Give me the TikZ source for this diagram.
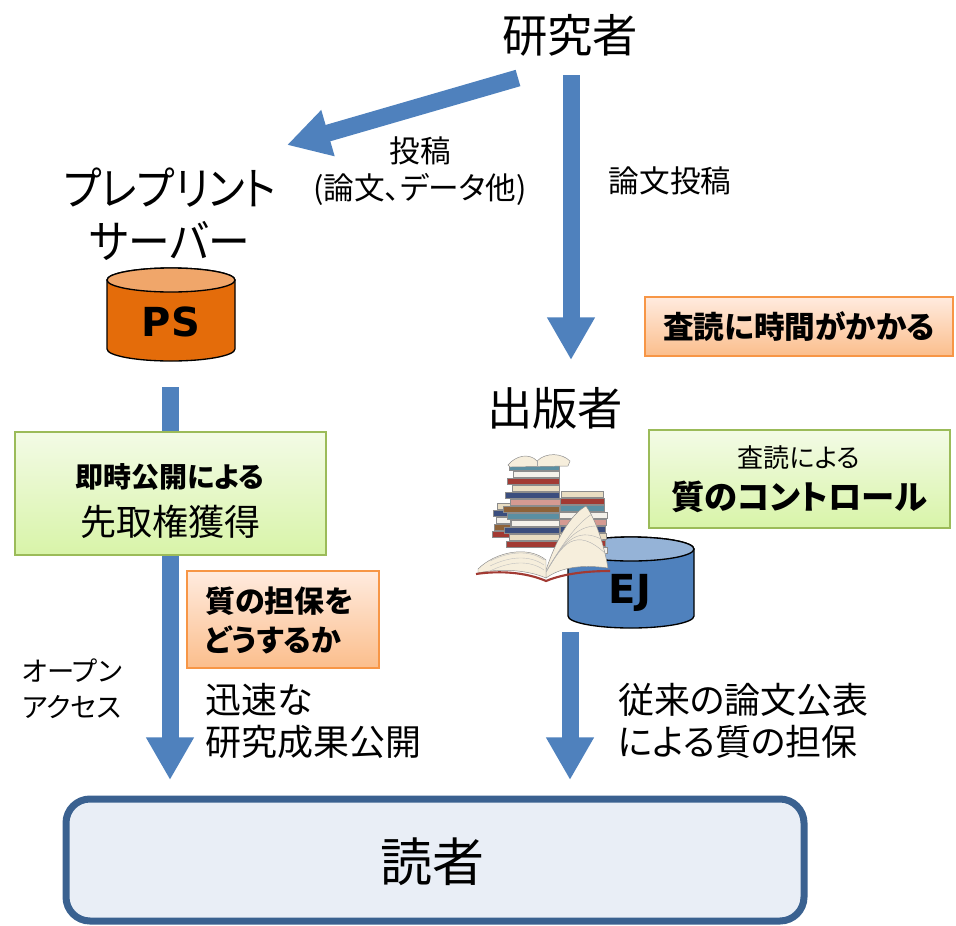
\documentclass[tikz,border=0pt]{standalone}
\usepackage{fontspec}
\setmainfont{Noto Sans CJK JP}[RawFeature=+palt]
\newfontfamily\latinfont{DejaVu Sans}
\usetikzlibrary{arrows.meta}

\definecolor{flowblue}{HTML}{4F81BD}
\definecolor{readerline}{HTML}{3A6190}
\definecolor{readerfill}{HTML}{E9EEF6}
\definecolor{greenline}{HTML}{9BBB59}
\definecolor{greentop}{HTML}{F3FBE6}
\definecolor{greenbot}{HTML}{D8F4A8}
\definecolor{orangeline}{HTML}{F79646}
\definecolor{orangetop}{HTML}{FFEBDF}
\definecolor{orangebot}{HTML}{FBBE8C}
\definecolor{psbody}{HTML}{E46C0A}
\definecolor{pstop}{HTML}{F0A66A}
\definecolor{ejbody}{HTML}{4F81BD}
\definecolor{ejtop}{HTML}{95B3D7}
\definecolor{bkred}{HTML}{A23A33}
\definecolor{bkcream}{HTML}{E9DDC2}
\definecolor{bknavy}{HTML}{3B4E7E}
\definecolor{bkwhite}{HTML}{F4F1EA}
\definecolor{bkteal}{HTML}{5B8FA2}
\definecolor{bkbrown}{HTML}{8E6238}
\definecolor{bkpink}{HTML}{D59A92}
\definecolor{pagecream}{HTML}{F6EEDC}

\tikzset{
  flow/.style={draw=flowblue, line width=12.75pt,
    -{Triangle[width=33.75pt,length=32pt]}},
  lbl/.style={inner sep=0pt, outer sep=0pt},
  big/.style={lbl, font=\fontsize{34}{40}\selectfont},
  mid/.style={lbl, font=\fontsize{23}{28}\selectfont},
  note/.style={lbl, align=left, anchor=west, font=\fontsize{27}{31.5}\selectfont},
  small/.style={lbl, align=left, anchor=west, font=\fontsize{20.5}{27}\selectfont},
  greenbox/.style={draw=greenline, line width=1.5pt, top color=greentop,
    bottom color=greenbot, inner sep=0pt},
  orangebox/.style={draw=orangeline, line width=1.5pt, top color=orangetop,
    bottom color=orangebot, inner sep=0pt},
  dbtext/.style={lbl, font=\latinfont\bfseries\fontsize{30}{36}\selectfont},
  book/.style={draw=black!45, line width=0.35pt},
}

\begin{document}
\begin{tikzpicture}[x=0.75pt, y=-0.75pt]
\useasboundingbox (0,0) rectangle (956,925);

% --- main actors -------------------------------------------------------
\node[big] (researcher) at (570,35) {研究者};
\node[big, align=center] (preprint) at (170,214)
  {\scalebox{0.9}[1]{プレプリント}\\\scalebox{0.92}[1]{サーバー}};
\node[big] (publisher) at (555,408) {出版者};

% --- flow arrows (drawn first, boxes sit on top) -------------------------
\coordinate (subA) at (518,78);
\coordinate (subB) at (287,145);
\coordinate (pubA) at (571,75);
\coordinate (pubB) at (571,360);
\coordinate (psA) at (170,387);
\coordinate (psB) at (170,780);
\coordinate (ejA) at (570,632);
\coordinate (ejB) at (570,780);
\draw[flow] (subA) -- (subB);
\draw[flow] (pubA) -- (pubB);
\draw[flow] (psA) -- (psB);
\draw[flow] (ejA) -- (ejB);

\node[mid, align=center, font=\fontsize{23}{28}\selectfont] (sublabel) at (420,171)
  {投稿\\(論文、データ他)};
\node[mid] (pubsub) at (670,181) {論文投稿};

% --- preprint server database --------------------------------------------
\filldraw[fill=psbody, draw=black, line width=1pt]
  (107,280) -- (107,349) arc[start angle=180, end angle=0, x radius=64, y radius=12]
  -- (235,280) arc[start angle=360, end angle=180, x radius=64, y radius=12] -- cycle;
\filldraw[fill=pstop, draw=black, line width=1pt] (171,280) ellipse[x radius=64, y radius=12];
\node[dbtext] (ps) at (171,322) {PS};

% --- journal database -------------------------------------------------------
\filldraw[fill=ejbody, draw=black, line width=1pt]
  (568,549) -- (568,616) arc[start angle=180, end angle=0, x radius=63, y radius=12]
  -- (694,549) arc[start angle=360, end angle=180, x radius=63, y radius=12] -- cycle;
\filldraw[fill=ejtop, draw=black, line width=1pt] (631,549) ellipse[x radius=63, y radius=12];
\node[dbtext] (ej) at (630,593) {EJ};

% --- pile of books beside the journal database -------------------------------
\foreach \bx/\by/\bw/\bc in {492/531/18/bkred, 494/524/16/bkbrown, 496/517/14/bkwhite,
    493/510/17/bknavy, 497/503/14/bkcream}
  \filldraw[book, fill=\bc] (\bx,\by) rectangle ++(\bw,6.5);
\foreach \bx/\by/\bw/\bc in {557/547/50/bkwhite, 559/540/46/bkred, 556/533/50/bkcream,
    560/526/45/bknavy, 557/519/49/bkpink, 555/512/52/bkwhite, 560/505/44/bkteal,
    557/498/47/bkred, 561/491/42/bkcream}
  \filldraw[book, fill=\bc] (\bx,\by) rectangle ++(\bw,6.5);
\foreach \bx/\by/\bw/\bc in {506/541/56/bkred, 509/534/50/bkcream, 504/527/55/bknavy,
    511/520/48/bkwhite, 507/513/52/bkteal, 503/506/56/bkbrown, 510/499/50/bkpink,
    505/492/54/bknavy, 512/485/47/bkcream, 507/478/52/bkred, 513/471/46/bkwhite,
    509/464/50/bkteal}
  \filldraw[book, fill=\bc] (\bx,\by) rectangle ++(\bw,6.5);
% small open book on top of the pile
\filldraw[book, fill=pagecream] (508,465) .. controls (516,455) and (530,453) .. (537,461)
  .. controls (546,452) and (562,453) .. (570,461) -- (568,466) -- (510,467) -- cycle;
\draw[black!35, line width=0.3pt] (537,461) -- (537,467);
% large open book in front
\filldraw[book, fill=pagecream] (546,570) .. controls (556,540) and (570,515) .. (586,506)
  .. controls (596,520) and (604,545) .. (608,568) .. controls (580,564) and (560,568)
  .. (546,578) -- cycle;
\foreach \ex/\ey in {592/514, 598/526, 603/540, 606/554}
  \draw[black!30, line width=0.3pt] (546,572) .. controls (562,545) and (575,525) .. (\ex,\ey);
\filldraw[book, fill=pagecream] (478,569) .. controls (495,552) and (528,545) .. (546,560)
  -- (546,578) .. controls (528,570) and (500,568) .. (478,573) -- cycle;
\foreach \ly in {556,561,566}
  \draw[black!25, line width=0.3pt] (490,\ly+5) .. controls (510,\ly-5) and (530,\ly-6) .. (544,\ly+4);
\draw[bkred, line width=1.6pt] (476,574) .. controls (510,569) and (535,576) .. (546,581)
  .. controls (565,573) and (590,571) .. (610,571);

% --- annotation boxes -----------------------------------------------------
\node[greenbox, minimum width=233.25pt, minimum height=92.25pt] (oabox) at (170.5,493.5) {};
\node[lbl, font=\bfseries\fontsize{21}{25}\selectfont] (oa1) at (170,477) {即時公開による};
\node[lbl, font=\fontsize{27}{32}\selectfont] (oa2) at (170,522) {先取権獲得};

\node[orangebox, minimum width=144pt, minimum height=72.75pt] (qbox) at (283,619.5) {};
\node[lbl, align=left, anchor=west, font=\bfseries\fontsize{22.5}{29}\selectfont] (qtext)
  at (205,620.5) {質の担保を\\どうするか};

\node[orangebox, minimum width=231pt, minimum height=44.25pt] (delaybox) at (799,326.5) {};
\node[lbl, font=\bfseries\fontsize{23}{28}\selectfont] (delay) at (799,327) {査読に時間がかかる};

\node[greenbox, minimum width=225.75pt, minimum height=73.5pt] (prbox) at (799.5,479) {};
\node[lbl, font=\fontsize{19.5}{24}\selectfont] (pr1) at (799,458) {査読による};
\node[lbl, font=\bfseries\fontsize{25}{30}\selectfont] (pr2) at (799,497) {質のコントロール};

% --- path labels ----------------------------------------------------------
\node[small] (oalabel) at (22,689) {オープン\\アクセス};
\node[note] (fast) at (205,721) {迅速な\\研究成果公開};
\node[note] (trad) at (618,721) {従来の論文公表\\による質の担保};

% --- readers ----------------------------------------------------------------
\node[draw=readerline, fill=readerfill, line width=5.25pt, rounded corners=18pt,
  minimum width=553.5pt, minimum height=91.5pt] (reader) at (435,860) {};
\node[lbl, font=\fontsize{39}{45}\selectfont] (readertext) at (432,862) {読者};

\end{tikzpicture}
\end{document}
